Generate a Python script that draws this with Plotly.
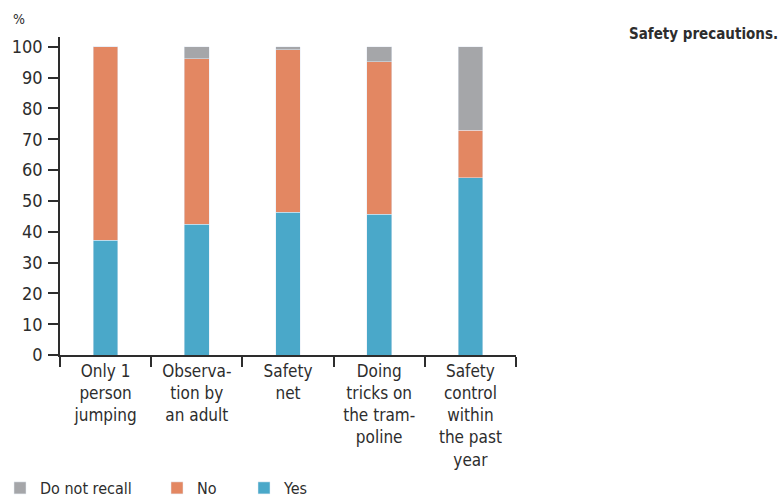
import plotly.graph_objects as go

categories = ["Only 1<br>person<br>jumping", "Observa-<br>tion by<br>an adult", "Safety<br>net",
              "Doing<br>tricks on<br>the tram-<br>poline", "Safety<br>control<br>within<br>the past<br>year"]
yes = [37.3, 42.5, 46.4, 45.6, 57.5]
no = [62.7, 53.7, 52.6, 49.5, 15.5]
dnr = [0.0, 3.8, 1.0, 4.9, 27.0]
y_ticks = list(range(0, 101, 10))

FONT = "DejaVu Sans Condensed, DejaVu Sans, sans-serif"
C_YES = "#4AA8C9"
C_NO = "#E38762"
C_DNR = "#A5A6A9"
TXT = "#2d2d2d"

fig = go.Figure()
fig.add_trace(go.Bar(x=categories, y=yes, name="Yes", marker_color=C_YES, width=0.27, legend="legend3"))
fig.add_trace(go.Bar(x=categories, y=no, name="No", marker_color=C_NO, width=0.27, legend="legend2"))
fig.add_trace(go.Bar(x=categories, y=dnr, name="Do not recall", marker_color=C_DNR, width=0.27,
                     legend="legend", showlegend=True))

W, H = 782, 499
l, r, t, b = 60, 266, 37, 144
pw = W - l - r
ph = H - t - b

def px_x(x):
    return (x - l) / pw

def px_y(y):
    return (H - b - y) / ph

leg_common = dict(orientation="h", yanchor="middle", xanchor="left", xref="container", yref="container",
                  font=dict(family=FONT, size=16, color=TXT),
                  bgcolor="rgba(0,0,0,0)", itemwidth=30)

fig.update_layout(
    width=W, height=H,
    margin=dict(l=l, r=r, t=t, b=b, autoexpand=False),
    barmode="stack",
    showlegend=True,
    plot_bgcolor="white", paper_bgcolor="white",
    font=dict(family=FONT, size=16, color=TXT),
    legend=dict(x=-3 / W, y=1 - 488 / H, **leg_common),
    legend2=dict(x=157 / W, y=1 - 488 / H, **leg_common),
    legend3=dict(x=244 / W, y=1 - 488 / H, **leg_common),
    xaxis=dict(showline=True, linecolor=TXT, linewidth=1.5, ticks="outside",
               tickson="boundaries", ticklen=10, tickcolor=TXT, tickwidth=1.5,
               tickfont=dict(family=FONT, size=17, color=TXT), showgrid=False),
    yaxis=dict(range=[0, 103.2], tickvals=y_ticks, showline=True, linecolor=TXT,
               linewidth=1.5, ticks="outside", ticklen=10, tickcolor=TXT, tickwidth=1.5,
               tickfont=dict(family=FONT, size=18, color=TXT), showgrid=False,
               zeroline=False, ticklabelstandoff=2),
    annotations=[
        dict(text="%", x=px_x(19), y=px_y(19), xref="paper", yref="paper", showarrow=False,
             xanchor="center", yanchor="middle", font=dict(family=FONT, size=14, color=TXT)),
        dict(text="<b>Safety precautions.</b>", x=px_x(780), y=px_y(34), xref="paper", yref="paper",
             xanchor="right", yanchor="middle", showarrow=False,
             font=dict(family=FONT, size=15, color=TXT)),
    ],
)

fig.write_html("out.html")
